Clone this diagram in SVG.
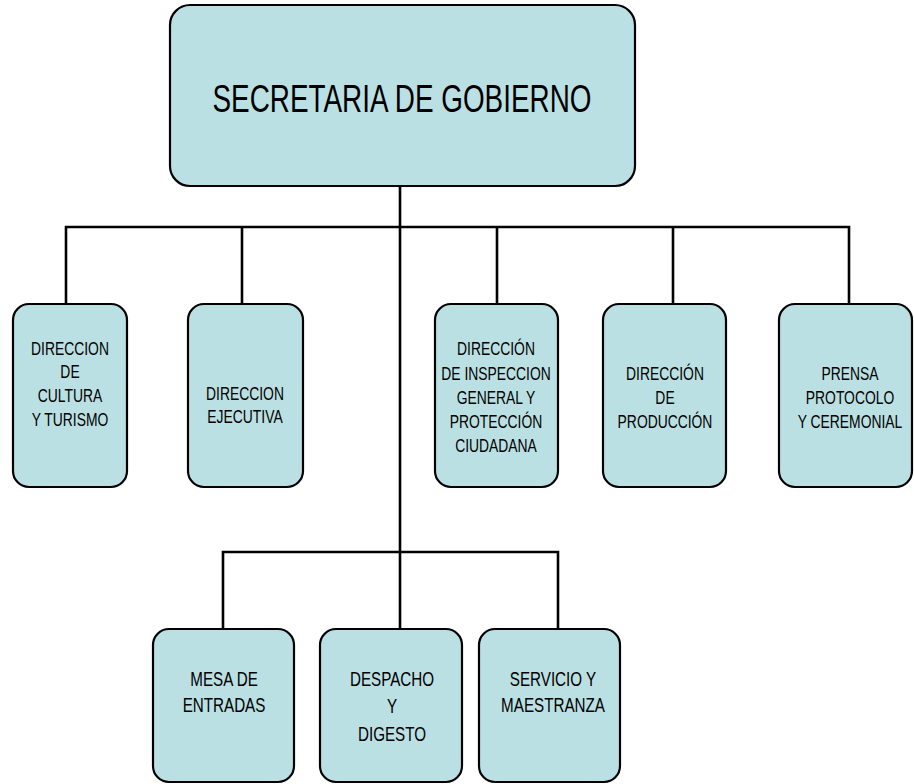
<svg xmlns="http://www.w3.org/2000/svg" width="914" height="784" viewBox="0 0 914 784">
<style>
.box{fill:#bbe0e3;stroke:#000;stroke-width:2.2}
.ln{fill:none;stroke:#000;stroke-width:2.6}
text{font-family:"Liberation Sans",Arial,sans-serif;fill:#000;text-anchor:middle}
.t2{font-size:18.5px}
.t3{font-size:19.5px}
</style>
<rect width="914" height="784" fill="#fff"/>
<g id="connectors">
<path class="ln" d="M400 186V628"/>
<path class="ln" d="M66 303V227H849V303M242 227V303M497 227V303M673 227V303"/>
<path class="ln" d="M223 629V552H558V629"/>
</g>
<g id="secretaria">
<rect class="box" x="170" y="5" width="465" height="181" rx="20"/>
<text transform="translate(402 0) scale(0.715 1)" x="0" y="112" style="font-size:39px">SECRETARIA DE GOBIERNO</text>
</g>
<g id="cultura">
<rect class="box" x="13" y="304" width="114" height="183" rx="16"/>
<text class="t2" transform="translate(70 0) scale(0.75 1)"><tspan x="0" y="355">DIRECCION</tspan><tspan x="0" y="378.5">DE</tspan><tspan x="0" y="402">CULTURA</tspan><tspan x="0" y="426">Y TURISMO</tspan></text>
</g>
<g id="ejecutiva">
<rect class="box" x="188" y="304" width="115" height="183" rx="16"/>
<text class="t2" transform="translate(245 0) scale(0.75 1)"><tspan x="0" y="400">DIRECCION</tspan><tspan x="0" y="423">EJECUTIVA</tspan></text>
</g>
<g id="inspeccion">
<rect class="box" x="435" y="304" width="123" height="183" rx="16"/>
<text class="t2" transform="translate(496 0) scale(0.75 1)"><tspan x="0" y="355">DIRECCIÓN</tspan><tspan x="0" y="380">DE INSPECCION</tspan><tspan x="0" y="404">GENERAL Y</tspan><tspan x="0" y="428">PROTECCIÓN</tspan><tspan x="0" y="452">CIUDADANA</tspan></text>
</g>
<g id="produccion">
<rect class="box" x="603" y="304" width="123" height="183" rx="16"/>
<text class="t2" transform="translate(665 0) scale(0.75 1)"><tspan x="0" y="380">DIRECCIÓN</tspan><tspan x="0" y="404">DE</tspan><tspan x="0" y="428">PRODUCCIÓN</tspan></text>
</g>
<g id="prensa">
<rect class="box" x="779" y="304" width="133" height="183" rx="16"/>
<text class="t2" transform="translate(850 0) scale(0.75 1)"><tspan x="0" y="380">PRENSA</tspan><tspan x="0" y="404">PROTOCOLO</tspan><tspan x="0" y="428">Y CEREMONIAL</tspan></text>
</g>
<g id="mesa">
<rect class="box" x="153" y="629" width="141" height="153" rx="16"/>
<text class="t3" transform="translate(224 0) scale(0.78 1)"><tspan x="0" y="686">MESA DE</tspan><tspan x="0" y="712">ENTRADAS</tspan></text>
</g>
<g id="despacho">
<rect class="box" x="320" y="629" width="142" height="153" rx="16"/>
<text class="t3" transform="translate(392 0) scale(0.78 1)"><tspan x="0" y="686">DESPACHO</tspan><tspan x="0" y="713">Y</tspan><tspan x="0" y="741">DIGESTO</tspan></text>
</g>
<g id="servicio">
<rect class="box" x="479" y="629" width="141" height="153" rx="16"/>
<text class="t3" transform="translate(553 0) scale(0.78 1)"><tspan x="0" y="686">SERVICIO Y</tspan><tspan x="0" y="712">MAESTRANZA</tspan></text>
</g>
</svg>
